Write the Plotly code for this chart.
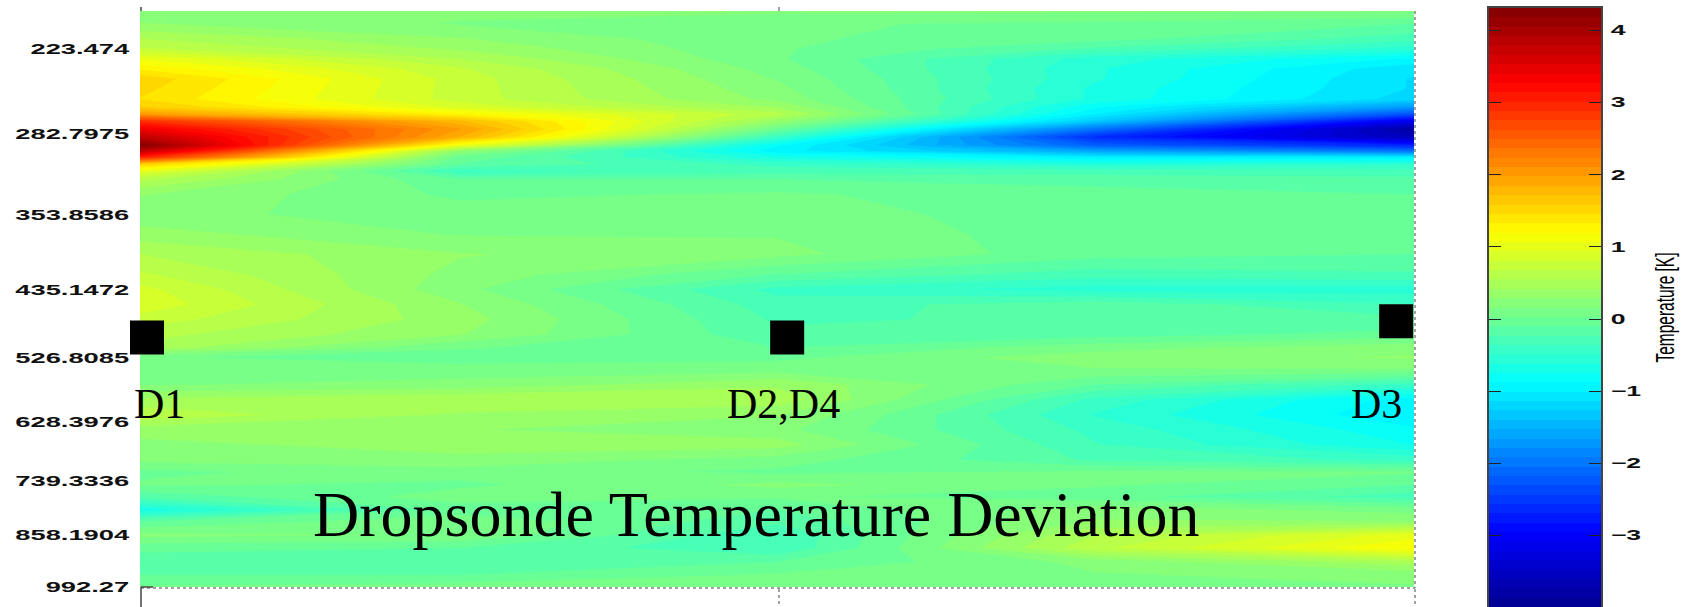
import numpy as np
import plotly.graph_objects as go

W, H = 1683, 607

# pressure levels (hPa), top to bottom
pressure = [200.3, 208.3, 217.1, 223.3, 229.5, 235.9, 242.6, 249.4, 256.5, 262.3, 267.4, 272.7,
            278.8, 285.0, 291.5, 296.4, 301.4, 307.3, 313.3, 320.3, 334.0, 353.1, 373.2, 394.5,
            417.1, 434.8, 453.4, 472.6, 492.8, 510.8, 525.2, 543.1, 566.2, 590.3, 615.4, 641.5,
            668.9, 697.3, 721.0, 747.5, 772.8, 801.2, 828.3, 858.8, 890.5, 925.8, 959.7, 992.27]
positions = [0, 0.5, 1, 1.5, 2]

col_d1 = [.2, .3, .55, .7, 1.05, 1.3, 1.55, 1.5, 1.45, 1.6, 2.0, 2.9, 3.4, 3.8, 4.3, 3.8, 3.0, 1.6, 1.0, .6,
          .3, .2, .35, .55, .7, .85, .9, .75, .6, .5, .05, .05, .15, .45, .65, .35, .25, .2, 0, .05,
          -.2, -.7, -.1, .2, -.05, -.2, -.1, .05]
col_q1 = [.2, .15, .3, .4, .55, .7, .75, .75, .75, .9, 1.25, 1.75, 2.0, 1.85, 1.1, .3, 0, -.1, -.4, -.1,
          0, .1, .15, .3, .25, .2, .3, .35, .3, .05, -.05, .1, .2, .55, .4, .3, .35, .25, .1, 0,
          .1, -.05, .15, .15, -.1, -.2, -.1, .1]
col_d2 = [.2, .05, .05, .05, .05, .1, .15, .2, .25, .4, .6, .35, 0, -.4, -.85, -.95, -.7, -.4, -.3, -.1,
          .05, .1, .15, .2, -.1, -.4, -.3, -.25, -.2, -.1, 0, .1, .4, .5, .3, .2, .35, .1, 0, .2,
          .05, -.1, -.2, -.35, -.35, -.1, .05, .15]
col_q3 = [.2, 0, -.05, -.25, -.55, -.6, -.6, -.65, -.65, -.85, -1.0, -1.3, -2.0, -2.6, -2.2, -1.6, -1.0, -.6, -.3, -.15,
          -.05, -.05, -.05, -.05, -.3, -.55, -.15, -.2, -.15, .1, .25, .15, -.1, -.4, -.5, -.4, -.35, -.25, .05, .05,
          -.05, .25, .3, .55, .65, .2, .15, .15]
col_d3 = [.2, -.1, -.3, -.55, -.9, -1.1, -1.15, -1.15, -1.2, -1.7, -2.3, -3.1, -3.8, -3.6, -2.7, -2.0, -1.0, -.5, -.3, -.2,
          -.1, 0, 0, -.1, -.25, -.55, -.35, -.2, -.05, .25, .3, .15, -.4, -.95, -1.0, -.85, -.75, -.4, .05, -.1,
          -.3, .1, .3, 1.0, 1.2, .5, .2, .15]

y_tickvals = [223.474, 282.7975, 353.8586, 435.1472, 526.8085, 628.3976, 739.3336, 858.1904, 992.27]
y_ticktext = ["223.474", "282.7975", "353.8586", "435.1472", "526.8085", "628.3976", "739.3336", "858.1904", "992.27"]
cbar_ticks = [-3, -2, -1, 0, 1, 2, 3, 4]
sonde_x = [0.011, 1.016, 1.972]
sonde_p = [497, 497, 475]

zmin, zmax = -3.99, 4.31
jet = [[0, "rgb(0,0,143)"], [.125, "rgb(0,0,255)"], [.375, "rgb(0,255,255)"],
       [.625, "rgb(255,255,0)"], [.875, "rgb(255,0,0)"], [1, "rgb(128,0,0)"]]
n_levels = 64
step = (zmax - zmin) / n_levels
z = np.array([col_d1, col_q1, col_d2, col_q3, col_d3]).T

fig = go.Figure()
fig.add_trace(go.Contour(
    x=positions, y=pressure, z=z, colorscale=jet, zmin=zmin, zmax=zmax, showscale=False,
    autocontour=False, contours=dict(start=zmin, end=zmax, size=step, coloring="fill", showlines=False),
    line=dict(width=0, smoothing=0), hoverinfo="skip"))
fig.add_trace(go.Scatter(x=sonde_x, y=sonde_p, mode="markers", cliponaxis=False,
                         marker=dict(symbol="square", size=34, color="black", line=dict(width=0))))

levels = zmin + step * (np.arange(n_levels) + .5)
fig.add_trace(go.Heatmap(x=[0, 1], y=levels, z=[[v, v] for v in levels], colorscale=jet, zmin=zmin, zmax=zmax,
                         showscale=False, xaxis="x2", yaxis="y2", hoverinfo="skip"))

tick_font = dict(family="Liberation Sans", size=14, color="#111", weight="bold")
serif = "Liberation Serif"
def px(x): return x / W
def py(y): return 1 - y / H

def label(text, x, y, size):
    return dict(text=text, x=px(x), y=py(y), xref="paper", yref="paper", showarrow=False,
                xanchor="center", yanchor="middle", font=dict(family=serif, size=size, color="black"))

annotations = [label("D1", 159, 404, 42), label("D2,D4", 783, 404, 42), label("D3", 1376, 404, 42),
               label("Dropsonde Temperature Deviation", 756, 514, 64),
               dict(text="Temperature [K]", x=px(1665), y=py(308), xref="paper", yref="paper", showarrow=False,
                    textangle=-90, xanchor="center", yanchor="middle",
                    font=dict(family="Liberation Sans", size=26, color="black"))]

def seg(x0, y0, x1, y1, color="#444", dash="solid", width=1.5):
    return dict(type="line", xref="paper", yref="paper", x0=px(x0), y0=py(y0), x1=px(x1), y1=py(y1),
                line=dict(color=color, dash=dash, width=width))

shapes = [seg(141, 587, 141, 607), seg(141, 587, 153, 587), seg(141, 7, 141, 11), seg(779, 7, 779, 11, width=1),
          seg(779, 589, 779, 607, dash="dot", width=1), seg(1415, 589, 1415, 607, dash="dot", width=1),
          seg(141, 588, 1415, 588, dash="dot", width=1), seg(1415, 11, 1415, 588, dash="dot", width=1)]

fig.update_layout(
    width=W, height=H, margin=dict(l=0, r=0, t=0, b=0, pad=0, autoexpand=False),
    paper_bgcolor="white", plot_bgcolor="white",
    showlegend=False, annotations=annotations, shapes=shapes,
    xaxis=dict(domain=[px(140), px(1414)], range=[0, 2], showticklabels=False, ticks="", showgrid=False,
               zeroline=False, automargin=False),
    yaxis=dict(domain=[py(587), py(11)], type="log", range=[np.log10(992.27), np.log10(201.0)],
               tickvals=y_tickvals, ticktext=y_ticktext, ticks="outside", ticklen=7, tickcolor="rgba(0,0,0,0)",
               showgrid=False, zeroline=False, tickfont=tick_font, automargin=False),
    xaxis2=dict(domain=[px(1489), px(1601)], range=[0, 1], anchor="y2", showticklabels=False, ticks="",
                showgrid=False, zeroline=False, showline=True, linecolor="#444", linewidth=2, mirror=True,
                automargin=False),
    yaxis2=dict(domain=[0, py(8)], anchor="x2", side="right", range=[zmin, zmax], tickvals=cbar_ticks,
                ticks="inside", ticklen=12, tickcolor="#222", mirror="ticks", showgrid=False, zeroline=False,
                showline=True, linecolor="#444", linewidth=2, tickfont=tick_font, ticklabelstandoff=5,
                automargin=False),
)

post = """
document.body.style.margin='0';
document.body.style.overflow='hidden';
setTimeout(function(){
  function stretch(sel,k){document.querySelectorAll(sel).forEach(function(t){
    var n=t.getComputedTextLength();t.setAttribute('textLength',n*k);t.setAttribute('lengthAdjust','spacingAndGlyphs');});}
  stretch('.ytick text',1.95);stretch('.y2tick text',1.9);
  document.querySelectorAll('.annotation-text').forEach(function(t){
    if(t.textContent.indexOf('[K]')>=0){t.setAttribute('textLength',110);t.setAttribute('lengthAdjust','spacingAndGlyphs');}});
},0);
"""
fig.write_html("out.html", post_script=post, config=dict(displayModeBar=False))
